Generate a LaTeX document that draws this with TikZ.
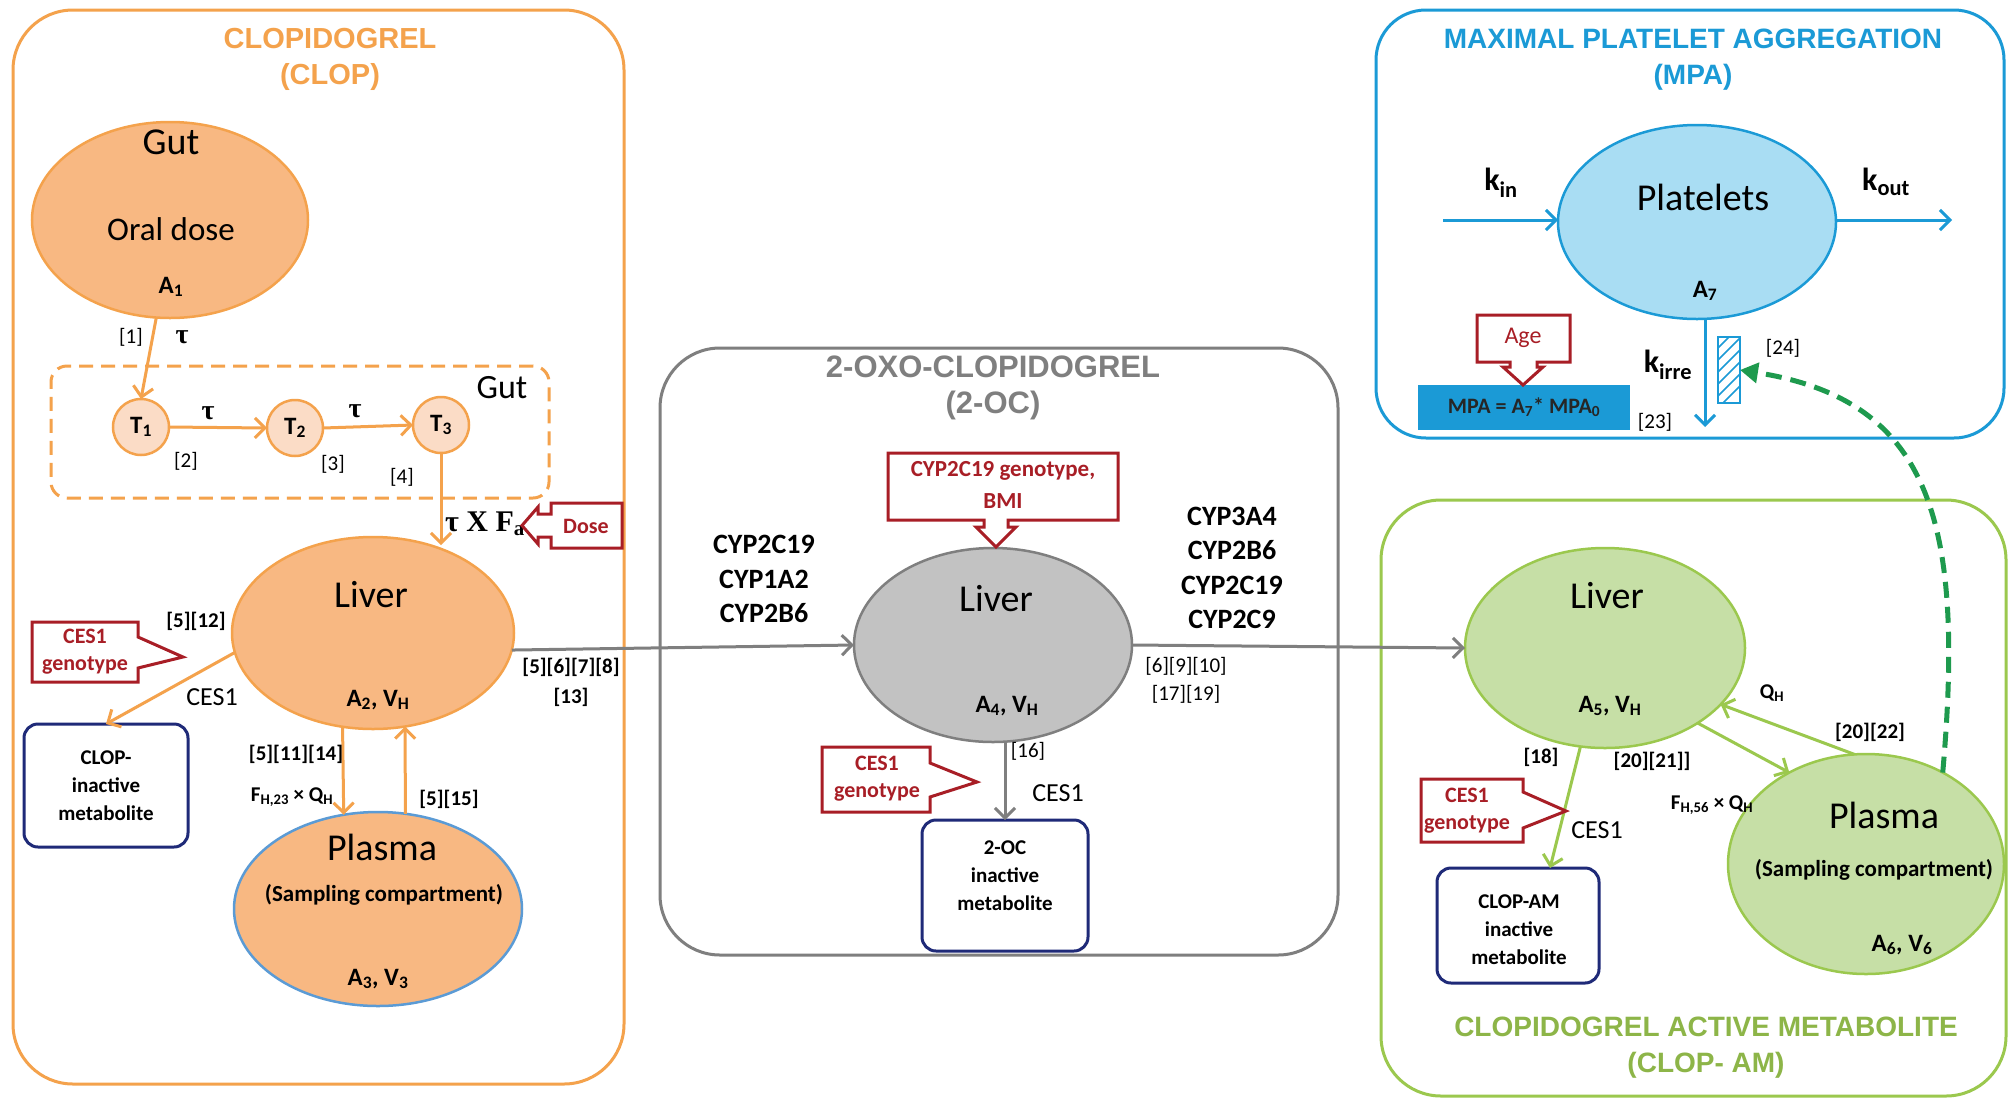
\documentclass[tikz,border=0pt]{standalone}
\usepackage{fontspec}
\setmainfont{Carlito}
\newfontfamily\ttlfont{Liberation Sans}
\newfontfamily\serf{Liberation Serif}
\usetikzlibrary{shapes.geometric,arrows.meta,calc}
\definecolor{org}{HTML}{F4A24C}
\definecolor{orgfill}{HTML}{F8B882}
\definecolor{tfill}{HTML}{FBDCC6}
\definecolor{gry}{HTML}{7F7F7F}
\definecolor{gryfill}{HTML}{C2C2C2}
\definecolor{blu}{HTML}{1B9AD6}
\definecolor{blufill}{HTML}{A9DDF3}
\definecolor{grn}{HTML}{9BC84E}
\definecolor{grnfill}{HTML}{C6DFA6}
\definecolor{grntxt}{HTML}{8DB548}
\definecolor{dred}{HTML}{A81E26}
\definecolor{navy}{HTML}{1F2A78}
\definecolor{dgrn}{HTML}{1E9A4E}
\definecolor{plblue}{HTML}{5B9BD5}
\newcommand{\lsub}[1]{\textsubscript{#1}}
\begin{document}
\begin{tikzpicture}[x=1pt,y=-1pt,
  every node/.style={inner sep=0pt,outer sep=0pt},
  panel/.style={draw,line width=3pt,rounded corners=60pt},
  comp/.style={ellipse,draw,line width=2.5pt},
  mbox/.style={draw=navy,line width=3pt,rounded corners=14pt,fill=white},
  callout/.style={draw=dred,line width=3pt,fill=white},
  ttl/.style={align=center,font=\ttlfont\bfseries\fontsize{29}{36}\selectfont},
  big/.style={font=\fontsize{38}{44}\selectfont},
  mid/.style={font=\fontsize{33}{38}\selectfont},
  amt/.style={font=\bfseries\fontsize{25}{30}\selectfont},
  cyp/.style={align=center,font=\bfseries\fontsize{28}{34.5}\selectfont},
  ref/.style={font=\fontsize{21}{25}\selectfont},
  refb/.style={font=\bfseries\fontsize{21}{25}\selectfont},
  lab/.style={font=\fontsize{26}{30}\selectfont},
  rtxt/.style={align=center,text=dred,font=\bfseries\fontsize{22}{27}\selectfont},
  mtxt/.style={align=center,font=\bfseries\fontsize{21}{28}\selectfont},
  samp/.style={font=\bfseries\fontsize{23}{27}\selectfont},
  tau/.style={font=\serf\bfseries\fontsize{28}{30}\selectfont},
  oarr/.style={draw=org,line width=3pt,-{Straight Barb[length=10pt,width=20pt]}},
  garr/.style={draw=gry,line width=3pt,-{Straight Barb[length=10pt,width=20pt]}},
  gnarr/.style={draw=grn,line width=3pt,-{Straight Barb[length=10pt,width=20pt]}},
  barr/.style={draw=blu,line width=3pt,-{Straight Barb[length=10pt,width=20pt]}}]
\useasboundingbox[fill=white] (0,0) rectangle (2010,1101);

% ===== panels =====
\node[panel,draw=org,minimum width=611pt,minimum height=1074pt] (clopbox) at (318.5,547) {};
\node[panel,draw=gry,minimum width=678pt,minimum height=607pt] (ocbox) at (999,651.5) {};
\node[panel,draw=blu,rounded corners=50pt,minimum width=628pt,minimum height=428pt] (mpabox) at (1690,224) {};
\node[panel,draw=grn,minimum width=625pt,minimum height=596pt] (ambox) at (1693.5,798) {};

\node[ttl,text=org] (t1) at (330,59) {CLOPIDOGREL\\(CLOP)};
\node[ttl,text=gry,font=\ttlfont\bfseries\fontsize{31}{36}\selectfont] (t2) at (993,388) {2-OXO-CLOPIDOGREL\\(2-OC)};
\node[ttl,text=blu,font=\ttlfont\bfseries\fontsize{28}{36}\selectfont] (t3) at (1693,60) {MAXIMAL PLATELET AGGREGATION\\(MPA)};
\node[ttl,text=grntxt,font=\ttlfont\bfseries\fontsize{28}{36}\selectfont] (t4) at (1706,1048) {CLOPIDOGREL ACTIVE METABOLITE\\(CLOP- AM)};

% ===== CLOP panel =====
\node[comp,draw=org,fill=orgfill,minimum width=276pt,minimum height=196pt] (gut) at (170,220) {};
\node[big] (gutl) at (171,142) {Gut};
\node[mid] (oral) at (171,229) {Oral dose};
\node[amt] (a1) at (171,287) {A\lsub{1}};

\node[draw=org,line width=3pt,dash pattern=on 14pt off 8pt,rounded corners=16pt,minimum width=498pt,minimum height=132pt] (gutbox) at (300,432) {};
\node[font=\fontsize{34}{40}\selectfont] (gut2) at (502,388) {Gut};

\node[circle,draw=org,fill=tfill,line width=2.5pt,minimum size=56pt] (T1) at (141,427) {};
\node[circle,draw=org,fill=tfill,line width=2.5pt,minimum size=56pt] (T2) at (295,428) {};
\node[circle,draw=org,fill=tfill,line width=2.5pt,minimum size=56pt] (T3) at (441,425) {};
\node[amt] at (T1) {T\lsub{1}};
\node[amt] at (T2) {T\lsub{2}};
\node[amt] at (T3) {T\lsub{3}};

\draw[oarr] (gut.-98) -- (T1.north);
\node[ref] (r1) at (131,337) {[1]};
\node[tau] (tau1) at (182,337) {τ};
\draw[oarr] (T1.east) -- (T2.west);
\draw[oarr] (T2.east) -- (T3.west);
\node[tau] (tau2) at (208,413) {τ};
\node[tau] (tau3) at (355,411) {τ};
\node[ref] (r2) at (186,461) {[2]};
\node[ref] (r3) at (333,464) {[3]};
\node[ref] (r4) at (402,477) {[4]};

\node[comp,draw=org,fill=orgfill,minimum width=282pt,minimum height=192pt] (lvO) at (373,633) {};
\node[big] (lvOl) at (371,595) {Liver};
\node[amt] (a2) at (378,700) {A\lsub{2}, V\lsub{H}};
\draw[oarr] (T3.south) -- (T3.south |- lvO.north) -- ++(0,8);

\node[font=\serf\bfseries\fontsize{30}{32}\selectfont] (taufa) at (485,524) {τ X F\lsub{a}};
\draw[callout] (622,503) -- (551,503) -- (551,514) -- (538,514) -- (538,507) -- (522,525.5) -- (538,544) -- (538,537) -- (551,537) -- (551,548) -- (622,548) -- cycle;
\node[rtxt] (dose) at (586,526) {Dose};

\node[refb] (r512) at (196,621) {[5][12]};
\draw[callout] (32,622) -- (138,622) -- (138,637) -- (183,657) -- (138,668) -- (138,682) -- (32,682) -- cycle;
\node[rtxt] (ces1a) at (85,652) {CES1\\genotype};
\node[mbox,minimum width=164pt,minimum height=123pt] (inactO) at (106,785.5) {};
\node[mtxt] at (inactO) {CLOP-\\inactive\\metabolite};
\draw[oarr] (lvO.188) -- (inactO.north);
\node[lab] (ces1b) at (212,697) {CES1};

\node[comp,draw=plblue,fill=orgfill,minimum width=288pt,minimum height=194pt] (plO) at (378,909) {};
\node[big] (plOl) at (382,847) {Plasma};
\node[samp] (samp1) at (384,895) {(Sampling compartment)};
\node[amt] (a3) at (378,979) {A\lsub{3}, V\lsub{3}};
\draw[oarr] (lvO.252) -- (plO.110);
\draw[oarr] (plO.74) -- (lvO.289);
\node[refb] (r51114) at (296,754) {[5][11][14]};
\node[font=\bfseries\fontsize{21}{25}\selectfont] (fh23) at (292,797) {F\lsub{H,23} × Q\lsub{H}};
\node[refb] (r515) at (449,799) {[5][15]};

% ===== 2-OC panel =====
\node[comp,draw=gry,fill=gryfill,minimum width=278pt,minimum height=194pt] (lvG) at (993,645) {};
\node[big] (lvGl) at (996,599) {Liver};
\node[amt] (a4) at (1007,706) {A\lsub{4}, V\lsub{H}};
\draw[garr] (lvO.-7) -- (lvG.west);
\node[refb,align=center,font=\bfseries\fontsize{21}{30}\selectfont] (r5678) at (571,682) {[5][6][7][8]\\{}[13]};

\draw[callout] (888,453) -- (1118,453) -- (1118,520) -- (1008,520) -- (1008,527) -- (1016,527) -- (996,547) -- (976,527) -- (984,527) -- (984,520) -- (888,520) -- cycle;
\node[rtxt,font=\bfseries\fontsize{23}{32}\selectfont] (cypg) at (1003,485) {CYP2C19 genotype,\\BMI};

\node[cyp] (enzL) at (764,579) {CYP2C19\\CYP1A2\\CYP2B6};
\node[cyp] (enzR) at (1232,568) {CYP3A4\\CYP2B6\\CYP2C19\\CYP2C9};
\node[ref,align=center,font=\fontsize{21}{28}\selectfont] (r69) at (1186,680) {[6][9][10]\\{}[17][19]};

\node[mbox,minimum width=166pt,minimum height=131pt] (inact2) at (1005,885.5) {};
\node[mtxt] at (1005,876) {2-OC\\inactive\\metabolite};
\draw[garr] (lvG.south -| inact2.north) -- (inact2.north);
\node[ref] (r16) at (1028,751) {[16]};
\node[lab] (ces1c) at (1058,793) {CES1};
\draw[callout] (822,747) -- (930,747) -- (930,763) -- (977,782) -- (930,797) -- (930,812) -- (822,812) -- cycle;
\node[rtxt] (ces1d) at (877,779) {CES1\\genotype};

% ===== CLOP-AM panel =====
\node[comp,draw=grn,fill=grnfill,minimum width=280pt,minimum height=200pt] (lvGr) at (1605,648) {};
\node[big] (lvGrl) at (1607,596) {Liver};
\node[amt] (a5) at (1610,706) {A\lsub{5}, V\lsub{H}};
\draw[garr] (lvG.east) -- (lvGr.west);

\node[comp,draw=grn,fill=grnfill,minimum width=276pt,minimum height=220pt] (plGr) at (1866,864) {};
\node[big] (plGrl) at (1884,815) {Plasma};
\node[samp] (samp2) at (1874,870) {(Sampling compartment)};
\node[amt] (a6) at (1902,945) {A\lsub{6}, V\lsub{6}};

\draw[gnarr] (lvGr.321) -- (plGr.130);
\draw[gnarr] (plGr.96) -- (lvGr.334);
\node[font=\bfseries\fontsize{21}{25}\selectfont] (qh) at (1772,693) {Q\lsub{H}};
\node[refb] (r2022) at (1870,732) {[20][22]};
\node[refb] (r2021) at (1652,761) {[20][21]]};
\node[font=\bfseries\fontsize{21}{25}\selectfont] (fh56) at (1712,805) {F\lsub{H,56} × Q\lsub{H}};

\node[mbox,minimum width=162pt,minimum height=115pt] (inact3) at (1518,925.5) {};
\node[mtxt] at (1519,930) {CLOP-AM\\inactive\\metabolite};
\draw[gnarr] (lvGr.256) -- ($(inact3.north)+(32,0)$);
\node[refb] (r18) at (1541,757) {[18]};
\node[lab] (ces1e) at (1597,830) {CES1};
\draw[callout] (1421,779) -- (1523,779) -- (1523,792) -- (1566,811) -- (1523,828) -- (1523,842) -- (1421,842) -- cycle;
\node[rtxt] (ces1f) at (1467,811) {CES1\\genotype};

% ===== MPA panel =====
\node[comp,draw=blu,fill=blufill,minimum width=278pt,minimum height=194pt] (plt) at (1697,222) {};
\node[big] (pltl) at (1703,197) {Platelets};
\node[amt] (a7) at (1705,291) {A\lsub{7}};
\coordinate (kinS) at (1443,220);
\coordinate (koutE) at (1952,220);
\draw[barr] (kinS) -- (kinS -| plt.west);
\draw[barr] (koutE -| plt.east) -- (koutE);
\node[font=\bfseries\fontsize{32}{36}\selectfont] (kin) at (1501,183) {k\lsub{in}};
\node[font=\bfseries\fontsize{32}{36}\selectfont] (kout) at (1886,182) {k\lsub{out}};
\coordinate (kirE) at (1705,427);
\draw[barr] (kirE |- plt.south) -- (kirE);
\node[font=\bfseries\fontsize{32}{36}\selectfont] (kirre) at (1668,365) {k\lsub{irre}};

\node[draw=blu,line width=2pt,fill=white,minimum width=22pt,minimum height=66pt] (hatch) at (1729,370) {};
\begin{scope}
  \clip (1718,337) rectangle (1740,403);
  \foreach \k in {0,...,8} \draw[blu,line width=1.5pt] (1714,412-12*\k) -- (1744,382-12*\k);
\end{scope}
\node[draw=blu,line width=2pt,minimum width=22pt,minimum height=66pt] at (1729,370) {};
\node[ref] (r24) at (1783,348) {[24]};
\node[ref] (r23) at (1655,422) {[23]};

\node[fill=blu,minimum width=212pt,minimum height=45pt] (mpaf) at (1524,407.5) {};
\node[font=\bfseries\fontsize{22}{26}\selectfont,text=black!85] at (mpaf) {MPA = A\lsub{7}* MPA\lsub{0}};
\draw[callout] (1477,315) -- (1570,315) -- (1570,362) -- (1537,362) -- (1537,367) -- (1543,367) -- (1523,385) -- (1503,367) -- (1510,367) -- (1510,362) -- (1477,362) -- cycle;
\node[rtxt,font=\fontsize{24}{28}\selectfont] (age) at (1523,338) {Age};

% green dashed feedback
\draw[dgrn,line width=5pt,dash pattern=on 16pt off 9pt,-{Triangle[length=18pt,width=20pt]}] (plGr.50) .. controls (1965,520) and (1930,400) .. (hatch.east);
\end{tikzpicture}
\end{document}
